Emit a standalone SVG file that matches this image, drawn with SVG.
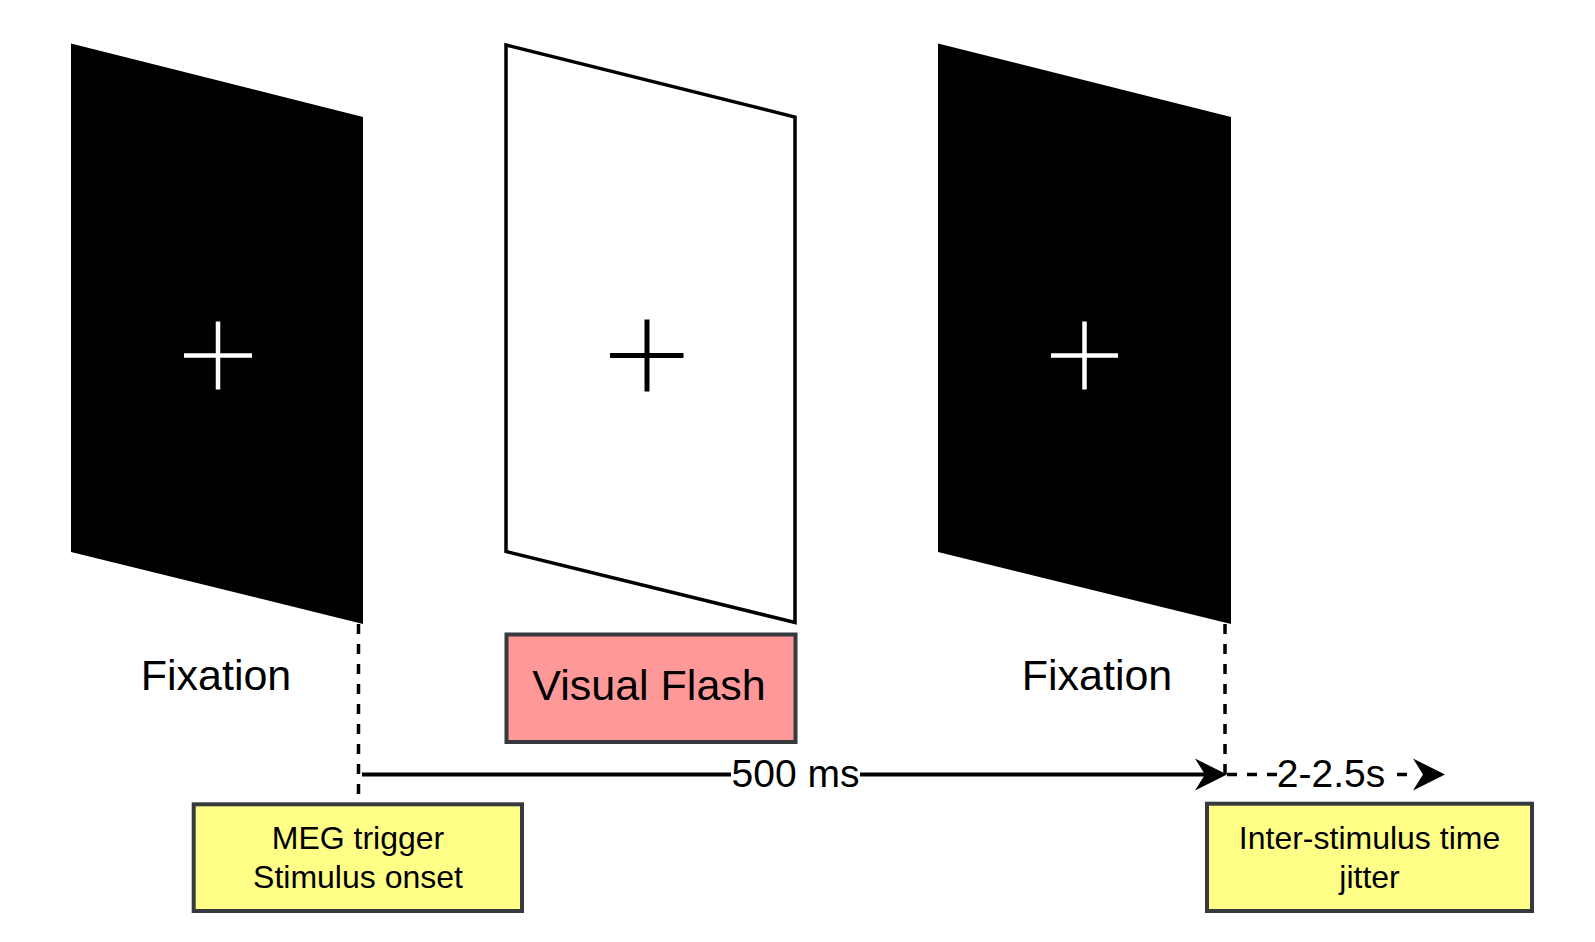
<svg xmlns="http://www.w3.org/2000/svg" width="1595" height="942" viewBox="0 0 1595 942">
<style>
  text { font-family: "Liberation Sans", Arial, sans-serif; fill: #000; text-anchor: middle; }
  .lbl { font-size: 43px; }
  .edge { font-size: 39px; }
  .note { font-size: 32px; }
  .box { stroke: #36393d; stroke-width: 4; }
  .dash { stroke: #000; stroke-width: 3.5; stroke-dasharray: 10 10; fill: none; }
  .solid { stroke: #000; stroke-width: 4; fill: none; }
</style>
<rect width="1595" height="942" fill="#fff"/>

<g id="screen-fixation-1">
  <polygon points="71,43.5 363,117 363,624 71,552" fill="#000"/>
  <line x1="184" y1="355.5" x2="252" y2="355.5" stroke="#fff" stroke-width="4.5"/>
  <line x1="218" y1="321.5" x2="218" y2="389.5" stroke="#fff" stroke-width="4.5"/>
  <text class="lbl" x="216" y="690">Fixation</text>
</g>

<g id="screen-flash">
  <polygon points="506,45 795,117 795,622.5 506,551.5" fill="#fff" stroke="#000" stroke-width="3.5"/>
  <line x1="610" y1="355.5" x2="683.5" y2="355.5" stroke="#000" stroke-width="5"/>
  <line x1="647" y1="319.5" x2="647" y2="391.5" stroke="#000" stroke-width="5"/>
</g>

<g id="visual-flash">
  <rect class="box" x="506.5" y="634.5" width="289" height="107.5" fill="#ff9999"/>
  <text class="lbl" x="649" y="700">Visual Flash</text>
</g>

<g id="screen-fixation-2">
  <polygon points="938,43.5 1231,117 1231,624 938,552" fill="#000"/>
  <line x1="1051" y1="355.5" x2="1118" y2="355.5" stroke="#fff" stroke-width="4.5"/>
  <line x1="1084.5" y1="321.5" x2="1084.5" y2="389.5" stroke="#fff" stroke-width="4.5"/>
  <text class="lbl" x="1097" y="690">Fixation</text>
</g>

<g id="meg-trigger">
  <rect class="box" x="193.7" y="804.3" width="328.3" height="106.7" fill="#ffff88"/>
  <text class="note" x="358" y="848.5">MEG trigger</text>
  <text class="note" x="358" y="887.5">Stimulus onset</text>
</g>

<g id="isi-jitter">
  <rect class="box" x="1207" y="803.7" width="325" height="107.3" fill="#ffff88"/>
  <text class="note" x="1369.5" y="849">Inter-stimulus time</text>
  <text class="note" x="1369.5" y="888">jitter</text>
</g>

<g id="connectors">
  <line class="dash" x1="358.5" y1="624" x2="358.5" y2="804"/>
  <line class="dash" x1="1225" y1="624" x2="1225" y2="775"/>

  <line class="solid" x1="362" y1="774.5" x2="1208" y2="774.5"/>
  <path d="M1227,774.5 L1195,758.5 L1205,774.5 L1195,790.5 Z" fill="#000"/>
  <rect x="731" y="755" width="129" height="40" fill="#fff"/>
  <text class="edge" x="795.5" y="787">500 ms</text>

  <line class="dash" x1="1227" y1="774.5" x2="1277" y2="774.5"/>
  <line class="dash" x1="1397" y1="774.5" x2="1416" y2="774.5"/>
  <path d="M1445,774.5 L1413,758.5 L1423,774.5 L1413,790.5 Z" fill="#000"/>
  <text class="edge" x="1331" y="787">2-2.5s</text>
</g>
</svg>
